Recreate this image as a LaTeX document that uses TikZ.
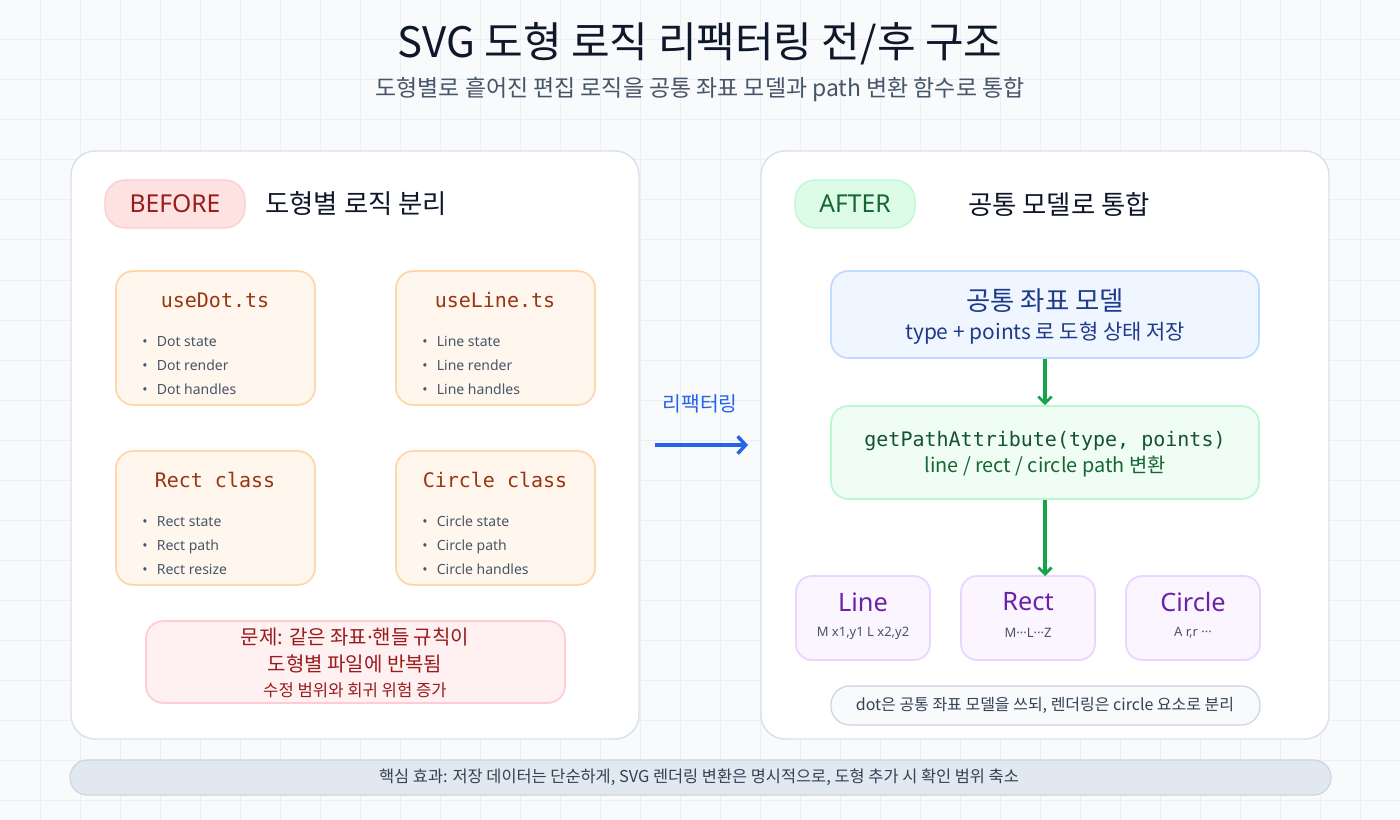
\documentclass[tikz,border=0pt]{standalone}
\usepackage{fontspec}
\setmainfont{Noto Sans CJK KR}
\newfontfamily\codefont{DejaVu Sans Mono}
\newfontfamily\latinfont{Noto Sans}
\usetikzlibrary{fit,arrows.meta}
\definecolor{bgc}{HTML}{F8FAFC}
\definecolor{gridc}{HTML}{EBF0F6}
\definecolor{titlec}{HTML}{0F172A}
\definecolor{subc}{HTML}{475569}
\definecolor{cardline}{HTML}{D9E1EC}
\definecolor{bfill}{HTML}{FEE2E2}
\definecolor{bline}{HTML}{FECACA}
\definecolor{btext}{HTML}{991B1B}
\definecolor{afill}{HTML}{DCFCE7}
\definecolor{aline}{HTML}{BBF7D0}
\definecolor{atext}{HTML}{166534}
\definecolor{headc}{HTML}{0F172A}
\definecolor{codefill}{HTML}{FFF7ED}
\definecolor{codeline}{HTML}{FED7AA}
\definecolor{codetext}{HTML}{9A3412}
\definecolor{probfill}{HTML}{FFF1F2}
\definecolor{probline}{HTML}{FECDD3}
\definecolor{bluec}{HTML}{2563EB}
\definecolor{modelfill}{HTML}{EFF6FF}
\definecolor{modelline}{HTML}{BFDBFE}
\definecolor{modeltext}{HTML}{1E3A8A}
\definecolor{funcfill}{HTML}{F0FDF4}
\definecolor{functext}{HTML}{14532D}
\definecolor{greenc}{HTML}{16A34A}
\definecolor{shapefill}{HTML}{FAF5FF}
\definecolor{shapeline}{HTML}{E9D5FF}
\definecolor{shapetext}{HTML}{6B21A8}
\definecolor{notec}{HTML}{334155}
\definecolor{noteline}{HTML}{CBD5E1}
\definecolor{bandfill}{HTML}{E2E8F0}
\newcommand{\mdots}{{\latinfont ···}}
\begin{document}
\begin{tikzpicture}[x=0.75pt,y=-0.75pt,
  card/.style={draw=cardline, fill=white, rounded corners=18pt, line width=1.1pt, inner sep=0pt},
  badge/.style={rounded corners=15pt, line width=0.9pt, inner sep=0pt},
  codebox/.style={draw=codeline, fill=codefill, rounded corners=13pt, line width=1.3pt, inner sep=0pt},
  codetitle/.style={font=\codefont\fontsize{15}{18}\selectfont, text=codetext},
  bullet/.style={font=\latinfont\fontsize{10.5}{13}\selectfont, text=subc, anchor=west, text height=7.5pt, text depth=2pt, inner sep=0pt},
  shapebox/.style={draw=shapeline, fill=shapefill, rounded corners=12pt, line width=1.3pt, inner sep=0pt},
  shapetitle/.style={font=\latinfont\fontsize{19}{23}\selectfont, text=shapetext},
  shapesub/.style={font=\latinfont\fontsize{9.75}{12}\selectfont, text=subc},
  flow/.style={draw=greenc, line width=2.3pt, -{Straight Barb[length=5pt,width=10pt,line width=2pt]}}
]
\useasboundingbox (0,0) rectangle (1400,820);
\fill[bgc] (0,0) rectangle (1400,820);
\foreach \x in {40,80,...,1360} \draw[gridc, line width=0.75pt] (\x,0) -- (\x,820);
\foreach \y in {40,80,...,800} \draw[gridc, line width=0.75pt] (0,\y) -- (1400,\y);

% title
\node[font=\fontsize{31.5}{36}\selectfont, text=titlec] (title) at (700,44) {SVG 도형 로직 리팩터링 전/후 구조};
\node[font=\fontsize{17.2}{20}\selectfont, text=subc] (subtitle) at (700,89) {도형별로 흩어진 편집 로직을 공통 좌표 모델과 path 변환 함수로 통합};

% cards
\node[card, fit={(71,151)(639,739)}] (left) {};
\node[card, fit={(761,151)(1329,739)}] (right) {};

% BEFORE header
\node[badge, draw=bline, fill=bfill, fit={(105,180)(245,228)}] (beforebadge) {};
\node[font=\latinfont\fontsize{18.5}{22}\selectfont, text=btext] (beforetxt) at (beforebadge.center) {BEFORE};
\node[font=\fontsize{19.8}{24}\selectfont, text=headc, anchor=west, inner sep=0pt] (beforehead) at (265,204) {도형별 로직 분리};

% AFTER header
\node[badge, draw=aline, fill=afill, fit={(795,180)(915,228)}] (afterbadge) {};
\node[font=\latinfont\fontsize{18.5}{22}\selectfont, text=atext] (aftertxt) at (afterbadge.center) {AFTER};
\node[font=\fontsize{19.8}{24}\selectfont, text=headc] (afterhead) at (1059,204) {공통 모델로 통합};

% code boxes
\node[codebox, fit={(116,271)(315,405)}] (dot) {};
\node[codetitle] (dott) at (215,300) {useDot.ts};
\node[bullet] (dotb0) at (142,343) {•\hspace{7pt}Dot state};
\node[bullet] (dotb1) at (142,367) {•\hspace{7pt}Dot render};
\node[bullet] (dotb2) at (142,391) {•\hspace{7pt}Dot handles};

\node[codebox, fit={(396,271)(595,405)}] (line) {};
\node[codetitle] (linet) at (495,300) {useLine.ts};
\node[bullet] (lineb0) at (422,343) {•\hspace{7pt}Line state};
\node[bullet] (lineb1) at (422,367) {•\hspace{7pt}Line render};
\node[bullet] (lineb2) at (422,391) {•\hspace{7pt}Line handles};

\node[codebox, fit={(116,451)(315,585)}] (rect) {};
\node[codetitle] (rectt) at (215,480) {Rect class};
\node[bullet] (rectb0) at (142,523) {•\hspace{7pt}Rect state};
\node[bullet] (rectb1) at (142,547) {•\hspace{7pt}Rect path};
\node[bullet] (rectb2) at (142,571) {•\hspace{7pt}Rect resize};

\node[codebox, fit={(396,451)(595,585)}] (circ) {};
\node[codetitle] (circt) at (495,480) {Circle class};
\node[bullet] (circb0) at (422,523) {•\hspace{7pt}Circle state};
\node[bullet] (circb1) at (422,547) {•\hspace{7pt}Circle path};
\node[bullet] (circb2) at (422,571) {•\hspace{7pt}Circle handles};

% problem
\node[draw=probline, fill=probfill, rounded corners=13pt, line width=1.3pt, inner sep=0pt, fit={(146,621)(565,703)}] (prob) {};
\node[font=\fontsize{15}{18}\selectfont, text=btext] (prob1) at (355,637) {문제: 같은 좌표{\latinfont ·}핸들 규칙이};
\node[font=\fontsize{15}{18}\selectfont, text=btext] (prob2) at (355,664) {도형별 파일에 반복됨};
\node[font=\fontsize{12.5}{15}\selectfont, text=btext] (prob3) at (355,690) {수정 범위와 회귀 위험 증가};

% refactor arrow
\coordinate (rs) at (655,445);
\coordinate (re) at (748,445);
\draw[bluec, line width=3pt, -{Straight Barb[length=6pt,width=13pt,line width=2.6pt]}] (rs) -- (re);
\node[font=\fontsize{15.3}{18}\selectfont, text=bluec] (reflabel) at (700,404) {리팩터링};

% model
\node[draw=modelline, fill=modelfill, rounded corners=13pt, line width=1.3pt, inner sep=0pt, fit={(831,271)(1259,358)}] (model) {};
\node[font=\fontsize{19.8}{23}\selectfont, text=modeltext] (modelt) at (1045,301) {공통 좌표 모델};
\node[font=\fontsize{15.7}{19}\selectfont, text=modeltext] (models) at (1045,333) {type + points 로 도형 상태 저장};

% func
\node[draw=aline, fill=funcfill, rounded corners=13pt, line width=1.3pt, inner sep=0pt, fit={(831,406)(1259,499)}] (func) {};
\node[font=\codefont\fontsize{15}{18}\selectfont, text=functext] (funct) at (1045,441) {getPathAttribute(type, points)};
\node[font=\fontsize{14.9}{18}\selectfont, text=atext] (funcs) at (1045,467) {line / rect / circle path 변환};

\draw[flow] (model.south) -- (func.north);

% shapes
\node[shapebox, fit={(796,576)(930,660)}] (sline) {};
\node[shapetitle] (slinet) at (863,602) {Line};
\node[shapesub] (slines) at (863,633) {M x1,y1 L x2,y2};
\node[shapebox, fit={(961,576)(1095,660)}] (srect) {};
\node[shapetitle] (srectt) at (1028,602) {Rect};
\node[shapesub] (srects) at (1028,633) {M\mdots L\mdots Z};
\node[shapebox, fit={(1126,576)(1260,660)}] (scirc) {};
\node[shapetitle] (scirct) at (1193,602) {Circle};
\node[shapesub] (scircs) at (1193,633) {A r,r \mdots};

\coordinate (fdown) at (1045,576);
\draw[flow] (func.south) -- (fdown);

% note
\node[draw=noteline, fill=bgc, rounded corners=14pt, line width=0.9pt, inner sep=0pt, fit={(831,686)(1260,725)}] (note) {};
\node[font=\fontsize{12}{14}\selectfont, text=notec] (notet) at (1045,705) {dot은 공통 좌표 모델을 쓰되, 렌더링은 circle 요소로 분리};

% bottom band
\node[draw=noteline, fill=bandfill, rounded corners=13pt, line width=0.9pt, inner sep=0pt, fit={(70,760)(1331,795)}] (band) {};
\node[font=\fontsize{12.3}{15}\selectfont, text=notec] (bandt) at (699,777) {핵심 효과: 저장 데이터는 단순하게, SVG 렌더링 변환은 명시적으로, 도형 추가 시 확인 범위 축소};
\end{tikzpicture}
\end{document}
